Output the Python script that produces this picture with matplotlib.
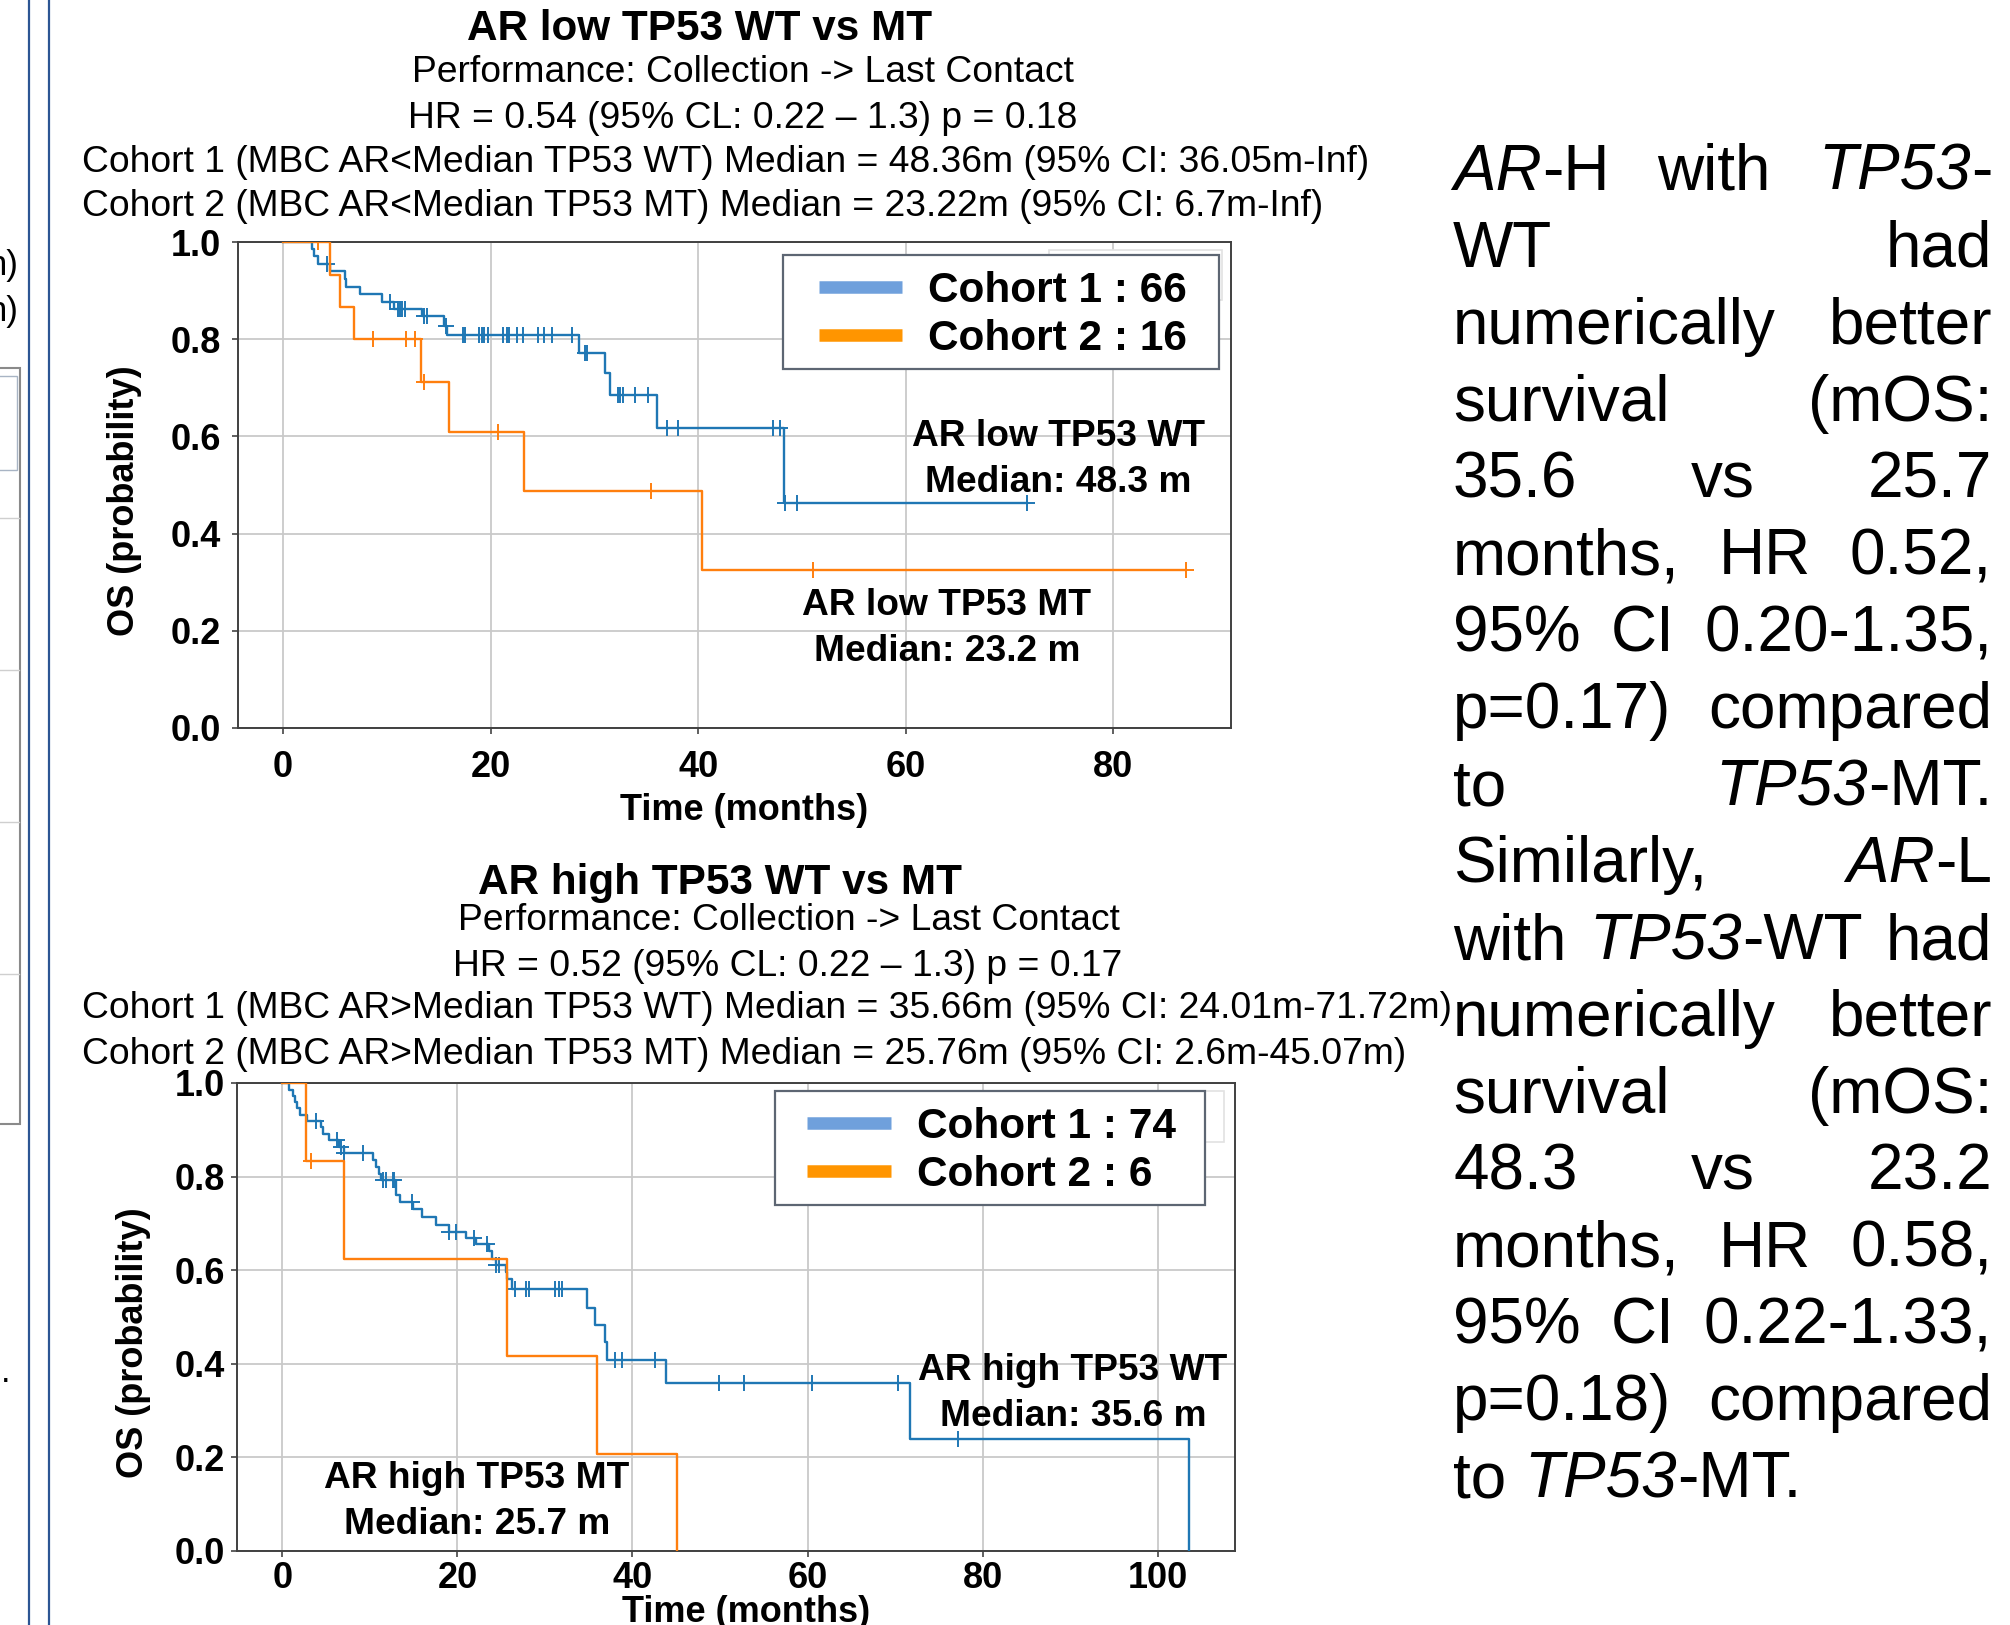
import numpy as np
import matplotlib
matplotlib.use('Agg')
import matplotlib.pyplot as plt
from matplotlib.lines import Line2D
from matplotlib.patches import Rectangle

plt.rcParams['font.family'] = ['Liberation Sans', 'DejaVu Sans']

W, H = 2010, 1625

# ---------------- data ----------------
# AR low: cohort 1 = TP53 WT, cohort 2 = TP53 MT
low_wt_t = [0, 2.8, 3.0, 3.4, 4.5, 6.0, 6.1, 7.4, 9.5, 10.7, 13.4, 15.5, 15.8,
            28.5, 31.0, 31.5, 36.0, 48.3, 71.7]
low_wt_s = [1.0, 0.985, 0.971, 0.955, 0.940, 0.924, 0.908, 0.893, 0.877, 0.862,
            0.847, 0.828, 0.809, 0.772, 0.731, 0.686, 0.617, 0.463, 0.463]
low_wt_cens = [4.2, 10.3, 11.1, 11.3, 11.5, 11.7, 13.6, 13.9, 15.7, 17.3, 17.5,
               18.9, 19.2, 19.4, 19.7, 21.2, 21.6, 21.8, 22.5, 23.1, 24.6, 25.1,
               25.9, 27.8, 29.1, 29.3, 32.3, 32.5, 32.8, 33.9, 35.2, 37.0, 38.1,
               47.2, 47.9, 48.4, 49.5, 71.7]

low_mt_t = [0, 4.5, 5.5, 6.8, 13.3, 16.0, 23.2, 40.4, 87.0]
low_mt_s = [1.0, 0.933, 0.867, 0.800, 0.711, 0.609, 0.487, 0.326, 0.326]
low_mt_cens = [3.4, 8.7, 11.8, 12.7, 13.6, 20.7, 35.5, 51.1, 87.0]

# AR high: cohort 1 = TP53 WT, cohort 2 = TP53 MT
high_wt_t = [0, 0.8, 1.2, 1.5, 1.7, 2.0, 2.8, 4.4, 4.7, 5.3, 6.5, 7.1, 10.4, 10.7,
             11.0, 11.3, 13.0, 13.4, 14.9, 16.0, 17.5, 19.0, 21.0, 22.1, 23.6,
             24.0, 24.4, 25.5, 25.7, 26.2, 34.8, 35.7, 36.9, 37.1, 43.8, 71.7, 103.6]
high_wt_s = [1.0, 0.986, 0.973, 0.959, 0.946, 0.932, 0.919, 0.905, 0.892, 0.878,
             0.863, 0.850, 0.835, 0.820, 0.806, 0.792, 0.760, 0.745, 0.731, 0.714,
             0.696, 0.682, 0.668, 0.655, 0.640, 0.625, 0.611, 0.597, 0.582, 0.559,
             0.520, 0.483, 0.447, 0.409, 0.359, 0.239, 0.0]
high_wt_cens = [3.9, 6.3, 6.7, 7.1, 9.2, 11.5, 11.8, 12.6, 12.8, 14.8, 19.0, 19.8,
                21.9, 23.4, 24.4, 24.8, 26.6, 27.8, 28.2, 31.2, 31.6, 31.9, 38.0,
                38.8, 42.6, 49.9, 52.7, 60.5, 70.3, 77.2]

high_mt_t = [0, 2.65, 7.0, 25.7, 36.0, 45.07]
high_mt_s = [1.0, 0.833, 0.625, 0.417, 0.208, 0.0]
high_mt_cens = [3.3]

low_title = 'AR low TP53 WT vs MT'
high_title = 'AR high TP53 WT vs MT'
subtitle = 'Performance: Collection -> Last Contact'
low_hr = 'HR = 0.54 (95% CL: 0.22 \u2013 1.3) p = 0.18'
high_hr = 'HR = 0.52 (95% CL: 0.22 \u2013 1.3) p = 0.17'
low_c1 = 'Cohort 1 (MBC AR<Median TP53 WT) Median = 48.36m (95% CI: 36.05m-Inf)'
low_c2 = 'Cohort 2 (MBC AR<Median TP53 MT) Median = 23.22m (95% CI: 6.7m-Inf)'
high_c1 = 'Cohort 1 (MBC AR>Median TP53 WT) Median = 35.66m (95% CI: 24.01m-71.72m)'
high_c2 = 'Cohort 2 (MBC AR>Median TP53 MT) Median = 25.76m (95% CI: 2.6m-45.07m)'
low_legend = ['Cohort 1 : 66', 'Cohort 2 : 16']
high_legend = ['Cohort 1 : 74', 'Cohort 2 : 6']

# words of the justified paragraph, *...* = italic
para = [
    ['*AR*-H', 'with', '*TP53*-'],
    ['WT', 'had'],
    ['numerically', 'better'],
    ['survival', '(mOS:'],
    ['35.6', 'vs', '25.7'],
    ['months,', 'HR', '0.52,'],
    ['95%', 'CI', '0.20-1.35,'],
    ['p=0.17)', 'compared'],
    ['to', '*TP53*-MT.'],
    ['Similarly,', '*AR*-L'],
    ['with', '*TP53*-WT', 'had'],
    ['numerically', 'better'],
    ['survival', '(mOS:'],
    ['48.3', 'vs', '23.2'],
    ['months,', 'HR', '0.58,'],
    ['95%', 'CI', '0.22-1.33,'],
    ['p=0.18)', 'compared'],
    ['to', '*TP53*-MT.'],
]

BLUE, ORANGE = '#1f77b4', '#ff7f0e'
LEG_BLUE, LEG_ORANGE = '#6fa0dc', '#ff9500'

fig = plt.figure(figsize=(W / 100, H / 100), dpi=100)


def ftext(x, y, s, **kw):
    return fig.text(x / W, 1 - y / H, s, **kw)


def km(ax, t, s, cens, color):
    t = np.asarray(t)
    s = np.asarray(s)
    ax.step(t, s, where='post', color=color, lw=1.7, zorder=3)
    idx = np.searchsorted(t, cens, side='right') - 1
    ax.plot(cens, s[idx], ls='none', marker='+', ms=11, mew=1.4, color=color, zorder=3)


def panel(box, xlim, xticks, curves, legend_labels, leg_anchor, leg_frame, lab_space,
          notes, ytick_pad, xtick_pad, xlab_y, ylab_xy, ghost):
    l, t, r, b = box
    ax = fig.add_axes([l / W, 1 - b / H, (r - l) / W, (b - t) / H])

    def axc(x, y):
        return (x - l) / (r - l), (b - y) / (b - t)

    for tt, ss, cc, col in curves:
        km(ax, tt, ss, cc, col)
    ax.set_xlim(*xlim)
    ax.set_ylim(0, 1)
    ax.set_xticks(xticks)
    ax.set_yticks([0, 0.2, 0.4, 0.6, 0.8, 1.0])
    ax.grid(True, color='#c9c9c9', lw=1.3)
    ax.set_axisbelow(True)
    ax.tick_params(labelsize=26, length=4, width=1.2, color='#444444')
    ax.tick_params(axis='y', pad=ytick_pad)
    ax.tick_params(axis='x', pad=xtick_pad)
    for lab in ax.get_xticklabels() + ax.get_yticklabels():
        lab.set_fontweight('bold')
    for sp in ax.spines.values():
        sp.set_color('#404040')
        sp.set_linewidth(1.4)

    ax.set_xlabel('Time (months)', fontsize=26, fontweight='bold', va='center')
    ax.xaxis.set_label_coords(0.51, axc(0, xlab_y)[1])
    ax.text(*axc(*ylab_xy), 'OS (probability)', rotation=90, ha='center', va='center',
            fontsize=26, fontweight='bold', transform=ax.transAxes)

    # faint box peeking out behind the legend
    gx0, gy0, gx1, gy1 = ghost
    ax.add_patch(Rectangle(axc(gx0, gy1), (gx1 - gx0) / (r - l), (gy1 - gy0) / (b - t),
                           transform=ax.transAxes, facecolor='white', edgecolor='#e2e2e2',
                           lw=1.2, zorder=4.6, clip_on=False))
    fx0, fy0, fx1, fy1 = leg_frame
    ax.add_patch(Rectangle(axc(fx0, fy1), (fx1 - fx0) / (r - l), (fy1 - fy0) / (b - t),
                           transform=ax.transAxes, facecolor='white', edgecolor='#5d6673',
                           lw=1.6, zorder=4.8, clip_on=False))
    handles = [Line2D([], [], color=LEG_BLUE, lw=9, solid_capstyle='butt'),
               Line2D([], [], color=LEG_ORANGE, lw=9, solid_capstyle='butt')]
    ax.legend(handles, legend_labels, loc='upper left', bbox_to_anchor=axc(*leg_anchor),
              frameon=False, borderpad=0, borderaxespad=0, handlelength=1.97,
              handletextpad=0.62, labelspacing=lab_space,
              prop=dict(size=30.5, weight='bold'))

    for (x, y, s) in notes:
        ax.text(*axc(x, y), s, ha='center', va='center', fontsize=26.7,
                fontweight='bold', transform=ax.transAxes, zorder=6)
    return ax


# ---------------- top panel: AR low ----------------
panel(box=(238, 242, 1231, 728), xlim=(-4.35, 91.35), xticks=[0, 20, 40, 60, 80],
      curves=[(low_wt_t, low_wt_s, low_wt_cens, BLUE),
              (low_mt_t, low_mt_s, low_mt_cens, ORANGE)],
      legend_labels=low_legend, leg_anchor=(818.7, 271), leg_frame=(783, 255, 1219, 369),
      lab_space=0.18,
      notes=[(1058, 436, 'AR low TP53 WT'), (1058, 482, 'Median: 48.3 m'),
             (947, 606, 'AR low TP53 MT'), (947, 652, 'Median: 23.2 m')],
      ytick_pad=8.5, xtick_pad=11.5, xlab_y=811, ylab_xy=(124, 501),
      ghost=(1049, 250, 1222, 300))

ftext(700, 29, low_title, ha='center', va='center', fontsize=30.4, fontweight='bold')
ftext(743, 73, subtitle, ha='center', va='center', fontsize=26.8)
ftext(743, 119, low_hr, ha='center', va='center', fontsize=26.8)
ftext(82, 163, low_c1, ha='left', va='center', fontsize=26.8)
ftext(82, 207, low_c2, ha='left', va='center', fontsize=26.8)

# ---------------- bottom panel: AR high ----------------
panel(box=(237, 1083, 1234.5, 1551), xlim=(-5.18, 108.78), xticks=[0, 20, 40, 60, 80, 100],
      curves=[(high_wt_t, high_wt_s, high_wt_cens, BLUE),
              (high_mt_t, high_mt_s, high_mt_cens, ORANGE)],
      legend_labels=high_legend, leg_anchor=(807.4, 1106.5), leg_frame=(774.5, 1091, 1205, 1205),
      lab_space=0.2,
      notes=[(1073, 1371, 'AR high TP53 WT'), (1073, 1417, 'Median: 35.6 m'),
             (477, 1479, 'AR high TP53 MT'), (477, 1525, 'Median: 25.7 m')],
      ytick_pad=4.5, xtick_pad=3.5, xlab_y=1612, ylab_xy=(133, 1343),
      ghost=(1150, 1091, 1224, 1142))

ftext(720, 883, high_title, ha='center', va='center', fontsize=30.4, fontweight='bold')
ftext(789, 921, subtitle, ha='center', va='center', fontsize=26.8)
ftext(788, 966, high_hr, ha='center', va='center', fontsize=26.8)
ftext(82, 1009, high_c1, ha='left', va='center', fontsize=26.8)
ftext(82, 1054, high_c2, ha='left', va='center', fontsize=26.8)

# ---------------- left edge remnants ----------------
for xv in (29, 49):
    fig.add_artist(Line2D([xv / W, xv / W], [0, 1], color='#2c5593', lw=1.6))
fig.add_artist(Rectangle((-10 / W, 1 - 1124 / H), 30 / W, (1124 - 368) / H,
                         transform=fig.transFigure, facecolor='white',
                         edgecolor='#8a8a8a', lw=1.5))
fig.add_artist(Rectangle((-10 / W, 1 - 470 / H), 27 / W, (470 - 376) / H,
                         transform=fig.transFigure, facecolor='none',
                         edgecolor='#a8b4c4', lw=1.0))
for yv in (518, 670, 822, 974):
    fig.add_artist(Line2D([0, 19 / W], [1 - yv / H, 1 - yv / H], color='#cfcfcf', lw=1.0))
ftext(19, 265, 'n)', ha='right', va='center', fontsize=25)
ftext(19, 311, 'n)', ha='right', va='center', fontsize=25)
ftext(1, 1372, '.', ha='left', va='center', fontsize=25)

# ---------------- justified paragraph ----------------
PARA_FS = 46
X0, X1 = 1453, 1992
renderer = fig.canvas.get_renderer()


def word_parts(word):
    return [(seg, k % 2 == 1) for k, seg in enumerate(word.split('*')) if seg]


def seg_width(seg, italic):
    t = fig.text(0, 0, seg, fontsize=PARA_FS, style='italic' if italic else 'normal')
    w = t.get_window_extent(renderer).width
    t.remove()
    return w


def put_word(x, y, word):
    for seg, italic in word_parts(word):
        ftext(x, y, seg, fontsize=PARA_FS, style='italic' if italic else 'normal',
              ha='left', va='baseline')
        x += seg_width(seg, italic)
    return x


space_px = 0.278 * PARA_FS * 100 / 72
for i, words in enumerate(para):
    y = 190 + 76.9 * i
    widths = [sum(seg_width(s, it) for s, it in word_parts(w)) for w in words]
    if i == len(para) - 1 or len(words) == 1:
        gap = space_px
    else:
        gap = (X1 - X0 - sum(widths)) / (len(words) - 1)
    x = X0
    for w, wd in zip(words, widths):
        put_word(x, y, w)
        x += wd + gap

fig.savefig('out.png', dpi=100)
